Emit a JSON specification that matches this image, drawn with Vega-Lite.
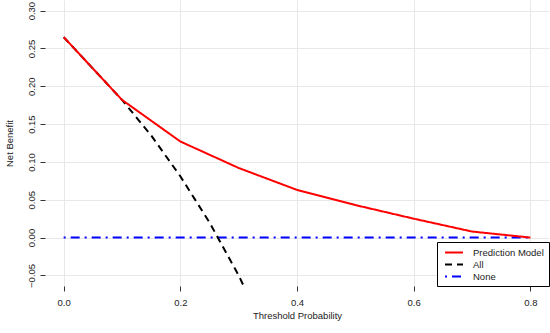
{
  "$schema": "https://vega.github.io/schema/vega-lite/v6.json",
  "width": 504,
  "height": 286,
  "autosize": {"type": "none"},
  "padding": {"left": 45, "top": 0, "right": 1, "bottom": 47},
  "background": "white",
  "config": {
    "view": {"stroke": null},
    "font": "Liberation Sans",
    "axis": {
      "gridColor": "#e8e8e8",
      "gridWidth": 1,
      "domain": false,
      "tickColor": "#333333",
      "tickSize": 5,
      "labelFontSize": 9.5,
      "labelColor": "#222222",
      "titleFontSize": 9.5,
      "titleFontWeight": "normal",
      "titleColor": "#222222"
    }
  },
  "datasets": {
    "curves": [
      {"model": "Prediction Model", "t": 0.0, "nb": 0.265},
      {"model": "Prediction Model", "t": 0.1, "nb": 0.182},
      {"model": "Prediction Model", "t": 0.2, "nb": 0.127},
      {"model": "Prediction Model", "t": 0.3, "nb": 0.092},
      {"model": "Prediction Model", "t": 0.4, "nb": 0.063},
      {"model": "Prediction Model", "t": 0.5, "nb": 0.043},
      {"model": "Prediction Model", "t": 0.6, "nb": 0.025},
      {"model": "Prediction Model", "t": 0.7, "nb": 0.008},
      {"model": "Prediction Model", "t": 0.8, "nb": 0.0},
      {"model": "All", "t": 0.0, "nb": 0.265},
      {"model": "All", "t": 0.1, "nb": 0.182},
      {"model": "All", "t": 0.15, "nb": 0.135},
      {"model": "All", "t": 0.2, "nb": 0.081},
      {"model": "All", "t": 0.25, "nb": 0.02},
      {"model": "All", "t": 0.3, "nb": -0.05},
      {"model": "All", "t": 0.35, "nb": -0.131},
      {"model": "None", "t": 0.0, "nb": 0.0},
      {"model": "None", "t": 0.8, "nb": 0.0}
    ]
  },
  "layer": [
    {
      "data": {"name": "curves"},
      "transform": [{"filter": "datum.model === 'None'"}],
      "mark": {"type": "line", "strokeWidth": 2, "clip": true},
      "encoding": {
        "x": {"field": "t", "type": "quantitative",
          "scale": {"domain": [-0.032, 0.832], "nice": false, "zero": false},
          "axis": {"values": [0, 0.2, 0.4, 0.6, 0.8], "format": ".1f", "title": "Threshold Probability", "labelPadding": 6, "titlePadding": 4}},
        "y": {"field": "nb", "type": "quantitative",
          "scale": {"domain": [-0.064, 0.314], "nice": false, "zero": false},
          "axis": {"values": [-0.05, 0, 0.05, 0.1, 0.15, 0.2, 0.25, 0.3], "format": ".2f", "labelAngle": -90, "labelAlign": "center", "labelBaseline": "bottom", "labelPadding": 4, "title": "Net Benefit", "titlePadding": 12}},
        "color": {"field": "model", "type": "nominal",
          "scale": {"domain": ["Prediction Model", "All", "None"], "range": ["#ff0000", "#000000", "#0000ff"]},
          "legend": {"title": null, "orient": "bottom-right", "offset": 0, "padding": 5, "strokeColor": "#000000", "fillColor": "#ffffff", "cornerRadius": 0, "symbolType": "M-2,0H2", "symbolFillColor": "transparent", "symbolStrokeWidth": 2, "symbolSize": 81, "labelFontSize": 9.5, "labelColor": "#222222", "rowPadding": 2, "symbolOffset": 6.5, "labelOffset": 13.5, "zindex": 1}},
        "strokeDash": {"field": "model", "type": "nominal",
          "scale": {"domain": ["Prediction Model", "All", "None"], "range": [[1, 0], [7, 5], [2, 5, 9, 5]]},
          "legend": {"title": null, "orient": "bottom-right"}}
      }
    },
    {
      "data": {"name": "curves"},
      "transform": [{"filter": "datum.model === 'All'"}],
      "mark": {"type": "line", "strokeWidth": 2, "clip": true},
      "encoding": {
        "x": {"field": "t", "type": "quantitative"},
        "y": {"field": "nb", "type": "quantitative"},
        "color": {"field": "model", "type": "nominal"},
        "strokeDash": {"field": "model", "type": "nominal"}
      }
    },
    {
      "data": {"name": "curves"},
      "transform": [{"filter": "datum.model === 'Prediction Model'"}],
      "mark": {"type": "line", "strokeWidth": 2, "clip": true},
      "encoding": {
        "x": {"field": "t", "type": "quantitative"},
        "y": {"field": "nb", "type": "quantitative"},
        "color": {"field": "model", "type": "nominal"},
        "strokeDash": {"field": "model", "type": "nominal"}
      }
    },
    {
      "mark": {"type": "rule", "color": "#333333", "strokeWidth": 1},
      "encoding": {
        "x": {"datum": -0.032},
        "y": {"datum": -0.05},
        "y2": {"datum": 0.3}
      }
    },
    {
      "mark": {"type": "rule", "color": "#333333", "strokeWidth": 1},
      "encoding": {
        "y": {"datum": -0.064},
        "x": {"datum": 0},
        "x2": {"datum": 0.8}
      }
    }
  ]
}
